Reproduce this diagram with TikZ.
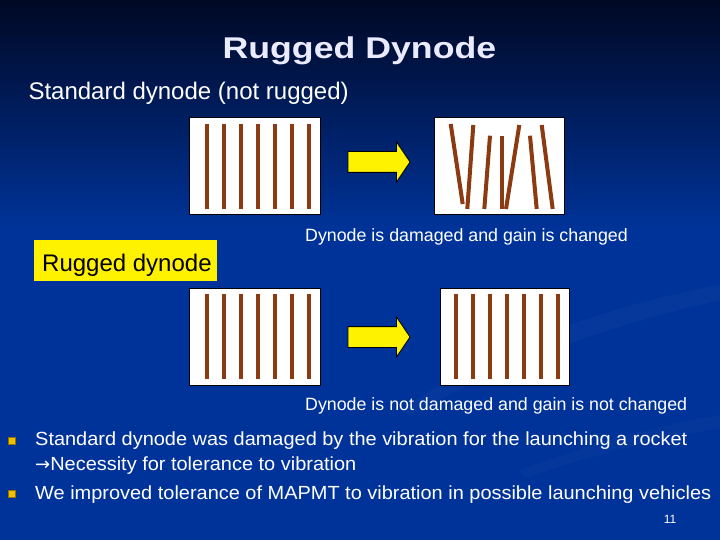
\documentclass[tikz,border=0pt]{standalone}
\usepackage{fontspec}
\setmainfont{Liberation Sans}
\newfontfamily\ttlfont[FakeStretch=1.19]{Liberation Sans}
\newfontfamily\itemfont[FakeStretch=1.05]{Liberation Sans}
\newfontfamily\symfont{DejaVu Sans}
\usetikzlibrary{shapes.arrows}
\definecolor{bgblue}{RGB}{0,51,153}
\definecolor{bgdark}{RGB}{0,8,36}
\definecolor{barbrown}{RGB}{139,58,18}
\definecolor{bulgold}{RGB}{240,192,0}
\begin{document}
\begin{tikzpicture}[
  x=1pt, y=-1pt,
  dynbox/.style={rectangle, draw=black, line width=1pt, fill=white,
                 minimum width=131pt, minimum height=97pt, inner sep=0pt},
  bar/.style={barbrown, line width=4pt},
  blockarrow/.style={single arrow, draw=black, line width=0.8pt, fill=yellow,
                     minimum height=62pt, inner xsep=0pt, inner ysep=10pt,
                     single arrow head extend=9.5pt, single arrow tip angle=112},
  txt/.style={text=white, inner sep=0pt, anchor=base west},
  bullet/.style={rectangle, fill=bulgold, draw=bulgold!60!black, line width=0.4pt,
                 minimum size=7pt, inner sep=0pt}
]
\useasboundingbox (0,0) rectangle (720,540);
% background
\shade[top color=bgdark, bottom color=bgblue] (0,0) rectangle (720,230);
\fill[bgblue] (0,230) rectangle (720,540);
\fill[white, opacity=0.025] (400,410) .. controls (520,330) and (640,300) .. (720,285)
  -- (720,300) .. controls (640,318) and (530,350) .. (410,415) -- cycle;
\fill[white, opacity=0.02] (520,470) .. controls (600,440) and (660,425) .. (720,415)
  -- (720,428) .. controls (660,438) and (600,452) .. (525,478) -- cycle;

% titles
\node[txt, anchor=base, font=\ttlfont\bfseries\fontsize{30}{36}\selectfont,
      text=white!92!blue] (ttl) at (359.4,59) {Rugged Dynode};
\node[txt, font=\fontsize{24}{29}\selectfont] (sub) at (28.3,100) {Standard dynode (not rugged)};

% standard dynode
\node[dynbox] (stdA) at (254.5,166.5) {};
\node[dynbox, minimum width=130pt] (stdB) at (499,166.5) {};
\foreach \x in {0,...,6}
  \draw[bar] (206.7+17*\x,124) -- (206.7+17*\x,209);
\foreach \xa/\ya/\xb/\yb in {450.7/124/462.7/204, 473.3/125/467.3/209,
    490/135.7/484.3/209, 501.7/135.7/501.7/209, 519.3/125/506/209,
    530/135.7/536.7/209, 541.7/125/552.7/209}
  \draw[bar] (\xa,\ya) -- (\xb,\yb);
\node[blockarrow] (arrA) at (375.5,162) {};
\node[txt, font=\fontsize{17.8}{21}\selectfont] (dmgTxt) at (305,241)
  {Dynode is damaged and gain is changed};

% rugged dynode
\node[rectangle, fill=yellow, minimum width=183pt, minimum height=41pt,
      inner sep=0pt] (rugBox) at (125.5,260.5) {};
\node[txt, text=black, font=\fontsize{24}{29}\selectfont] (rugLbl) at (42,271) {Rugged dynode};
\node[dynbox] (rugA) at (254.5,336.5) {};
\node[dynbox, minimum width=129pt] (rugB) at (504.5,336.5) {};
\foreach \x in {0,...,6} {
  \draw[bar] (206.7+17*\x,294) -- (206.7+17*\x,379);
  \draw[bar] (456+16.95*\x,294) -- (456+16.95*\x,379);
}
\node[blockarrow] (arrB) at (375.5,337) {};
\node[txt, font=\fontsize{17.8}{21}\selectfont] (okTxt) at (305,410.7)
  {Dynode is not damaged and gain is not changed};

% bullets
\node[bullet] (bulA) at (11.5,440.5) {};
\node[bullet] (bulB) at (11.5,493.5) {};
\node[txt, font=\itemfont\fontsize{19}{23}\selectfont] (itemA) at (35,445.7)
  {Standard dynode was damaged by the vibration for the launching a rocket};
\node[txt, font=\itemfont\fontsize{19}{23}\selectfont] (itemA2) at (35,470)
  {{\symfont\fontsize{18}{23}\selectfont →}Necessity for tolerance to vibration};
\node[txt, font=\itemfont\fontsize{19}{23}\selectfont] (itemB) at (35,499)
  {We improved tolerance of MAPMT to vibration in possible launching vehicles};
\node[txt, anchor=base, font=\fontsize{12}{14}\selectfont] (pgNum) at (670,523) {11};
\end{tikzpicture}
\end{document}
